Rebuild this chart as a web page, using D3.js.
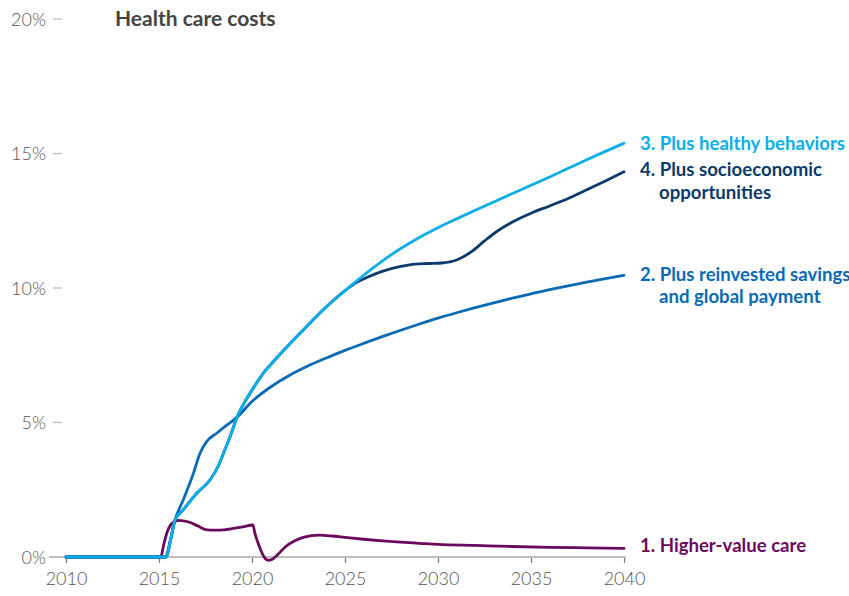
<!DOCTYPE html>
<html>
<head>
<meta charset="utf-8">
<script src="https://cdn.jsdelivr.net/npm/d3@7"></script>
<style>
  html, body { margin: 0; padding: 0; background: #fff; }
  svg { display: block; font-family: Lato, "Noto Sans", sans-serif; }
</style>
</head>
<body>
<svg id="chart" width="849" height="596"></svg>
<script>
// ---------- data ----------
const title = "Health care costs";
const xTicks = [2010, 2015, 2020, 2025, 2030, 2035, 2040];
const yTicks = [0, 5, 10, 15, 20];

const years1 = [2010, 2015.1, 2015.25, 2015.45, 2015.7, 2016.05, 2016.6, 2017.1, 2017.5, 2018, 2018.5, 2019, 2019.5, 2020.05, 2020.15, 2020.4, 2020.65, 2020.85, 2021.1, 2021.4, 2021.8, 2022.3, 2022.8, 2023.6, 2024.3, 2025, 2026, 2027, 2028, 2029, 2030, 2032, 2034, 2036, 2038, 2040];
const vals1  = [0, 0, 0.45, 0.95, 1.25, 1.36, 1.3, 1.15, 1.02, 1.0, 1.01, 1.06, 1.12, 1.19, 0.9, 0.38, 0.0, -0.12, -0.08, 0.1, 0.38, 0.6, 0.74, 0.81, 0.78, 0.73, 0.66, 0.6, 0.55, 0.51, 0.47, 0.43, 0.39, 0.36, 0.34, 0.32];

const years2 = [2010, 2015.35, 2015.6, 2015.86, 2016.3, 2016.85, 2017.2, 2017.56, 2018.1, 2018.64, 2019.2, 2020, 2021, 2022, 2023, 2024, 2025, 2026, 2027, 2028, 2029, 2030, 2031, 2032, 2033, 2034, 2035, 2036, 2037, 2038, 2039, 2040];
const vals2  = [0, 0, 0.6, 1.37, 2.12, 3.11, 3.85, 4.29, 4.6, 4.9, 5.2, 5.78, 6.32, 6.75, 7.1, 7.4, 7.68, 7.94, 8.19, 8.43, 8.66, 8.88, 9.08, 9.27, 9.45, 9.62, 9.78, 9.94, 10.08, 10.22, 10.35, 10.47];

const years3 = [2010, 2015.4, 2015.6, 2015.86, 2016.3, 2017.03, 2017.74, 2018.2, 2018.46, 2018.82, 2019.2, 2019.6, 2020, 2020.6, 2021, 2022, 2022.76, 2024, 2025, 2026, 2027, 2028, 2029, 2030, 2031, 2032, 2033, 2034, 2035, 2036, 2037, 2038, 2039, 2040];
const vals3  = [0, 0, 0.55, 1.37, 1.75, 2.37, 2.86, 3.4, 3.85, 4.47, 5.2, 5.75, 6.2, 6.83, 7.15, 7.9, 8.44, 9.3, 9.9, 10.47, 11.0, 11.47, 11.88, 12.24, 12.57, 12.89, 13.2, 13.51, 13.82, 14.13, 14.45, 14.77, 15.08, 15.38];

const years4 = [2010, 2015.4, 2015.6, 2015.86, 2016.3, 2017.03, 2017.74, 2018.2, 2018.46, 2018.82, 2019.2, 2019.6, 2020, 2020.6, 2021, 2022, 2022.76, 2024, 2025, 2025.6, 2026.2, 2027, 2028, 2028.8, 2029.5, 2030.2, 2031, 2031.8, 2032.5, 2033.2, 2034, 2035, 2036, 2037, 2038, 2039, 2040];
const vals4  = [0, 0, 0.55, 1.37, 1.75, 2.37, 2.86, 3.4, 3.85, 4.47, 5.2, 5.75, 6.2, 6.83, 7.15, 7.9, 8.44, 9.3, 9.9, 10.2, 10.4, 10.62, 10.8, 10.89, 10.91, 10.93, 11.04, 11.35, 11.75, 12.12, 12.45, 12.78, 13.05, 13.33, 13.65, 13.98, 14.32];

const seriesNames = [
  ["1. Higher-value care"],
  ["2. Plus reinvested savings", "and global payment"],
  ["3. Plus healthy behaviors"],
  ["4. Plus socioeconomic", "opportunities"]
];
const seriesColors = ["#6a0a5c", "#0a6ab4", "#0aaeea", "#0c3a6b"];

// ---------- build ----------
const series = [
  { name: seriesNames[0], color: seriesColors[0], shift: -3, pts: years1.map((y, i) => [y, vals1[i]]) },
  { name: seriesNames[1], color: seriesColors[1], shift: -1, pts: years2.map((y, i) => [y, vals2[i]]) },
  { name: seriesNames[3], color: seriesColors[3], shift: -2, pts: years4.map((y, i) => [y, vals4[i]]) },
  { name: seriesNames[2], color: seriesColors[2], shift: 0, pts: years3.map((y, i) => [y, vals3[i]]) }
];

const svg = d3.select("#chart");
const x = d3.scaleLinear().domain([2010, 2040]).range([66, 624]);
const y = d3.scaleLinear().domain([0, 20]).range([557, 19]);

// y axis labels with small dashes
const yAxis = d3.axisLeft(y).tickValues(yTicks).tickFormat(d => d + "%").tickSize(0).tickPadding(0);
const gy = svg.append("g").attr("transform", "translate(46,0)").call(yAxis);
gy.select(".domain").remove();
gy.selectAll("text").attr("font-size", 18).attr("fill", "#555").attr("font-family", "Lato, sans-serif").attr("font-weight", 300).attr("dy", "0.35em");
yTicks.filter(d => d > 0).forEach(d => {
  svg.append("line").attr("x1", 53).attr("x2", 62).attr("y1", y(d)).attr("y2", y(d))
    .attr("stroke", "#bbb").attr("stroke-width", 1.2);
});

// x axis
const xAxis = d3.axisBottom(x).tickValues(xTicks).tickFormat(d3.format("d")).tickSize(6).tickPadding(9);
const gx = svg.append("g").attr("transform", `translate(0,${y(0)})`).call(xAxis);
gx.select(".domain").remove();
gx.selectAll(".tick line").attr("stroke", "#777").attr("stroke-width", 1.2);
gx.selectAll("text").attr("font-size", 18).attr("fill", "#555").attr("font-family", "Lato, sans-serif").attr("font-weight", 300);
svg.append("line").attr("x1", 49).attr("x2", 626).attr("y1", y(0)).attr("y2", y(0))
  .attr("stroke", "#bdbdbd").attr("stroke-width", 2);

// title
svg.append("text").attr("x", 115).attr("y", 26).text(title)
  .attr("font-size", 21).attr("font-weight", 700).attr("fill", "#444");

// lines
const line = d3.line().x(d => x(d[0])).y(d => y(d[1])).curve(d3.curveMonotoneX);
svg.append("g").selectAll("path").data(series).join("path")
  .attr("d", d => line(d.pts))
  .attr("fill", "none")
  .attr("stroke", d => d.color)
  .attr("stroke-width", 2.8)
  .attr("stroke-linejoin", "round")
  .attr("stroke-linecap", "round");

// labels
const lab = svg.append("g").attr("font-size", 18.6).attr("font-weight", 700);
series.forEach(s => {
  const last = s.pts[s.pts.length - 1];
  const t = lab.append("text").attr("fill", s.color)
    .attr("x", 640).attr("y", y(last[1]) + s.shift);
  s.name.forEach((ln, i) => {
    t.append("tspan").attr("x", i === 0 ? 640 : 659).attr("dy", i === 0 ? "0.35em" : "1.2em").text(ln);
  });
});
</script>
</body>
</html>
